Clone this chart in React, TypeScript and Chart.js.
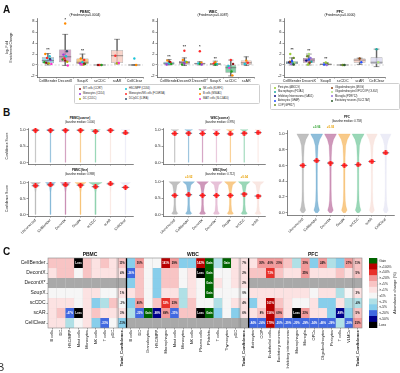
import React, { useEffect, useRef } from "react";
import { Chart, registerables } from "chart.js";

Chart.register(...registerables);

const FONT = "'Liberation Sans', Arial, sans-serif";
Chart.defaults.font.family = FONT;
Chart.defaults.color = "#222";
if (typeof document !== "undefined") document.body.style.margin = "0";

// ================= Panel A data (box plots) =================
const immuneMarkers = ["B/T cells (CCR7)", "Monocytes (CD14)", "DC (CD1C)", "HSC/MPP (CD34)", "Monocytes/NK cells (FCGR3A)", "DC/pDC (IL3RA)", "NK cells (KLRF1)", "B cells (MS4A1)", "MAIT cells (SLC4A10)"];
const immuneColors = ["#8b1a1a", "#9b3dd6", "#b7b400", "#19c3d6", "#ff2a2a", "#2f4f70", "#1fa31f", "#ff8a00", "#ff33cc"];
const brainMarkers = ["Pericytes (ABCC9)", "Macrophages (F13A1)", "Inhibitory Interneurons (GAD1)", "Astrocytes (GFAP)", "COP (GPR17)", "Oligodendrocytes (MOG)", "Oligodendrocytes/OPC/COP (OLIG2)", "Microglia (P2RY12)", "Excitatory neurons (SLC17A7)"];
const brainColors = ["#9acd32", "#20a8a0", "#101080", "#2050ff", "#6b8e23", "#8b4513", "#b0e080", "#9370db", "#2e5e2e"];

const boxYTicks = [-2, 0, 2, 4, 6, 8];

const pbmcBoxCats = ["CellBender", "DecontX", "SoupX", "scCDC", "scAR", "CellClear"];
const pbmcQ1 = [0.3, 0.5, 0.2, -0.04, 0.4, -0.04];
const pbmcQ3 = [1.4, 2.85, 1.2, 0.04, 2.7, 0.04];
const pbmcMed = [0.8, 1.5, 0.5, 0, 1.7, 0];
const pbmcLo = [0.0, -0.1, 0.0, 0, 0.2, -0.04];
const pbmcHi = [2.1, 5.6, 2.0, 0, 4.7, 0.04];
// [category, jitter, value, marker colour index]
const pbmcPoints = [
  [0, -0.15, 2.0, 7], [0, 0.1, 1.6, 3], [0, -0.05, 1.3, 4], [0, 0.15, 0.9, 1], [0, -0.2, 0.5, 6], [0, 0.05, 0.3, 2], [0, 0.2, 0.2, 8], [0, -0.1, 0.4, 0], [0, 0.12, 1.1, 5],
  [1, 0.0, 7.6, 7], [1, 0.1, 2.5, 5], [1, -0.1, 1.9, 1], [1, 0.05, 1.6, 3], [1, -0.15, 1.0, 6], [1, 0.12, 0.6, 2], [1, 0.0, 0.8, 0], [1, 0.15, -0.1, 8], [1, -0.05, 1.2, 4],
  [2, -0.1, 1.2, 7], [2, 0.1, 0.9, 4], [2, 0, 0.5, 3], [2, -0.15, 0.3, 1], [2, 0.15, 0.2, 6], [2, 0.05, 0.1, 2], [2, -0.05, 0.1, 8], [2, 0.1, 0.25, 0],
  [3, 0, 0, 4], [3, 0.1, 0, 6], [3, -0.1, 0, 0],
  [4, 0, 0.3, 2], [4, 0.1, 0.35, 8], [4, -0.1, 1.7, 4],
  [5, 0, 1.2, 3], [5, 0.1, 0, 7],
];
const pbmcStars = [[0, 2.85, "**"], [1, 8.3, "*"], [2, 2.6, "**"]];

const wbcBoxCats = ["CellBender", "DecontX", "DecontX*", "SoupX", "scCDC", "scAR"];
const wbcQ1 = [0.05, 0.1, 0.1, 0.0, -1.4, 0.0];
const wbcQ3 = [0.6, 0.75, 0.4, 0.35, 0.0, 0.8];
const wbcMed = [0.3, 0.45, 0.25, 0.15, -0.5, 0.4];
const wbcLo = [0.0, -0.1, 0.0, -0.1, -2.0, -0.1];
const wbcHi = [1.0, 1.3, 0.6, 0.7, 0.9, 1.5];
const wbcPoints = [
  [0, -0.1, 0.8, 7], [0, 0.1, 0.5, 4], [0, 0, 0.3, 3], [0, -0.15, 0.1, 1], [0, 0.15, 0.2, 6], [0, 0.05, 0.6, 0],
  [1, 0, 2.6, 4], [1, -0.1, 0.9, 7], [1, 0.1, 0.6, 3], [1, 0, 0.3, 1], [1, -0.15, 0.1, 6], [1, 0.15, 0.5, 2],
  [2, 0, 2.5, 4], [2, 0.1, 0.4, 7], [2, -0.1, 0.3, 3], [2, 0, 0.2, 6], [2, 0.12, 0.1, 1],
  [3, 0, 0.5, 7], [3, -0.1, 0.3, 4], [3, 0.1, 0.2, 3], [3, 0, 0.1, 6],
  [4, 0, 0.9, 4], [4, 0.1, -1.9, 7], [4, -0.1, -0.5, 8], [4, 0.05, -1.2, 6], [4, -0.15, -0.2, 3], [4, 0.15, 0.2, 0],
  [5, 0, 0.8, 7], [5, 0.1, 0.4, 4], [5, -0.1, 0.2, 3],
];
const wbcStars = [[0, 1.5, "**"], [1, 3.4, "**"], [2, 3.3, "*"], [3, 1.2, "**"]];

const pfcBoxCats = ["CellBender", "DecontX", "SoupX", "scCDC", "scAR", "CellClear"];
const pfcQ1 = [0.2, 0.4, 0.0, -0.04, 0.4, 0.2];
const pfcQ3 = [0.7, 1.3, 0.25, 0.04, 1.2, 1.4];
const pfcMed = [0.4, 0.9, 0.1, 0, 0.9, 0.5];
const pfcLo = [0.0, 0.0, 0.0, -0.04, 0.1, -0.3];
const pfcHi = [1.3, 2.0, 0.45, 0.04, 1.25, 2.9];
const pfcPoints = [
  [0, -0.1, 2.0, 0], [0, 0.1, 1.3, 4], [0, 0, 0.7, 3], [0, -0.15, 0.5, 2], [0, 0.15, 0.4, 6], [0, 0.05, 0.3, 1], [0, -0.05, 0.2, 7], [0, 0.1, 0.1, 8], [0, -0.12, 0.6, 5],
  [1, 0, 2.0, 6], [1, -0.1, 1.6, 4], [1, 0.1, 1.3, 7], [1, 0, 1.0, 3], [1, -0.15, 0.8, 2], [1, 0.15, 0.6, 1], [1, 0.05, 0.4, 5], [1, -0.05, 0.1, 0],
  [2, 0, 0.45, 0], [2, 0.1, 0.2, 4], [2, -0.1, 0.1, 3], [2, 0.05, 0.0, 7],
  [3, 0, 0, 4], [3, 0.1, 0, 8],
  [4, 0, 1.2, 5], [4, 0.1, 0.5, 3],
  [5, 0, 2.9, 1], [5, 0.1, 0.5, 6],
];
const pfcStars = [[0, 2.75, "**"], [1, 2.6, "**"], [2, 1.1, "**"]];

const boxColor: Record<string, string> = {
  CellBender: "#84cbe0", DecontX: "#c98bbb", "DecontX*": "#dca7c8", SoupX: "#f6ba6a",
  scCDC: "#67c191", scAR: "#f6c9bd", CellClear: "#dad8ef",
};

// ================= Panel B data (violins) =================
const bMethodsP = ["Uncorrected", "CellBender", "DecontX", "SoupX", "scCDC", "scAR", "CellClear"];
const bMethodsW = ["Uncorrected", "CellBender", "DecontX", "DecontX*", "SoupX", "scCDC", "scAR"];
const methodColor: Record<string, string> = {
  Uncorrected: "#9a9a9a", CellBender: "#4a96c4", DecontX: "#b0588f", "DecontX*": "#d99cc0",
  SoupX: "#f4aa40", scCDC: "#5cbf8a", scAR: "#f5d8d0", CellClear: "#e0e0f2",
};
const pbmcCoarseDots = [0.98, 0.98, 0.98, 0.98, 0.95, 0.98, 0.9];
const pbmcFineDots = [0.9, 0.93, 0.93, 0.92, 0.87, 0.96, 0.85];
const wbcCoarseDots = [0.88, 0.89, 0.88, 0.88, 0.87, 0.89, 0.91];
const wbcFineDots = [0.58, 0.6, 0.58, 0.58, 0.58, 0.62, 0.56];
const pfcDots = [0.6, 0.66, 0.63, 0.6, 0.61, 0.65, 0.76];

const coarseLevels = [0, 0.85, 0.94, 0.98, 1.0];
const pbmcCoarseW = [0.02, 0.02, 0.05, 0.15, 0.25];
const pbmcCoarseScale = [1, 1, 1, 1, 1.3, 1, 1.2];
const pbmcFineLevels = [0, 0.7, 0.9, 0.96, 1.0];
const pbmcFineW = [0.03, 0.03, 0.07, 0.22, 0.34];
const pbmcFineScale = [1, 1, 1, 1.1, 1.3, 0.7, 1];
const wbcCoarseW = [0.02, 0.02, 0.05, 0.18, 0.28];
const wbcCoarseScale = [1, 1, 1, 1, 1, 1, 0.8];
const wbcFineLevels = [0, 0.03, 0.1, 0.3, 0.5, 0.7, 0.9, 0.97, 1.0];
const wbcFineW = [0.15, 0.22, 0.1, 0.06, 0.06, 0.08, 0.16, 0.36, 0.42];
const wbcFineScale = [1, 1, 1, 1, 1, 1, 1];
const pfcLevels = [0, 0.03, 0.08, 0.15, 0.3, 0.5, 0.7, 0.85, 0.93, 0.98, 1.0];
const pfcW = [0.08, 0.2, 0.12, 0.07, 0.05, 0.05, 0.06, 0.1, 0.22, 0.38, 0.43];
const pfcScale = [1, 1, 1, 1, 1, 0.9, 0.9];
const wbcFineDelta = [[1, "+0.02", "#e8a000"], [5, "+0.04", "#e8a000"]];
const pfcDelta = [[1, "+0.06", "#2ca02c"], [2, "+0.03", "#e8a000"]];

// ================= Panel C data (heatmap) =================
const hmRows = ["CellBender", "DecontX", "DecontX*", "SoupX", "scCDC", "scAR", "CellClear"];
const pbmcCols = ["B cells", "DC", "HSC/MPP", "Mast cells", "Monocytes", "NK cells", "T cells", "pDC", "Total_Confidence"];
const wbcCols = ["B cells", "DC", "Granulocytes", "HSC/MPP", "Macrophages", "Mast cells", "Monocytes", "NK cells", "Plasma cells", "Platelets", "T cells", "Thymocytes", "pDC", "Total_Confidence"];
const pfcCols = ["Astrocytes", "COP", "Endothelial cells", "Excitatory neurons", "Inhibitory interneurons", "Macrophages", "Microglia", "OPCs", "Oligodendrocytes", "Pericytes", "T cells", "VLMCs", "Total_Confidence"];
const pbmcCells = [
  "R0 R0 R0 L:Loss R0 P R0 P R0:11%",
  "P R0 R0 W R0 P P P P:4%",
  "X X X X X X X X X",
  "W W W W P P W W P:1%",
  "P P P W P C c R0 W:-1%",
  "P R0 B:-47% L:Loss P R0 P P P:3%",
  "P P c W P C B:-33% W C:-11%",
];
const wbcCells = [
  "C R1:30% W W R3:141% R1:29% C C R3:142% G:Gain c G:Gain P P:7%",
  "B:-26% R0 W C R0 R0 W P L:Loss G:Gain W W P P:2%",
  "C R0 W C R0 R0 W P W G:Gain P W P P:2%",
  "P R0 W C P P c P W G:Gain W W W W:0%",
  "C R1:40% W R0 R2:52% R1:23% c R0 W W c W P P:4%",
  "c B:-23% G:Gain N:-98% R1:69% B:-31% R0 R0 L:Loss G:Gain C W C P:6%",
  "X X X X X X X X X X X X X X",
];
const pfcCells = [
  "P R1:30% R1:40% R1:20% R0 c R1:30% C R1:24% c C R1:27% R0:11%",
  "R0 R0 R2:73% R0 P P R1:25% P P P R0 P R0:5%",
  "X X X X X X X X X X X X X",
  "P P P P P P P W P P c W P:3%",
  "C P R3:161% R0 P W W P C C P c c:-4%",
  "P R0:8% R3:156% R1:69% P L:Loss R1:23% P P C N:-88% C R0:5%",
  "B:-84% B:-24% R3:179% B:-20% B:-29% B:-20% B:-29% B:-34% B:-46% B:-29% c B:-28% R1:25%",
];
const codeColor: Record<string, string> = {
  G: "#006400", R3: "#b80000", R2: "#e8302a", R1: "#f29a9a", R0: "#f8c4c4", P: "#fce2e2",
  W: "#f6f6f6", c: "#b0e0e6", C: "#87ceeb", B: "#4169e1", N: "#00008b", L: "#000000", X: "#a9a9a9",
};
const darkCodes = ["G", "R3", "R2", "B", "N", "L"];
const cbLabels = ["Gain", ">+100%", ">+50%", ">+20%", ">+5%", ">+1%", "±1%", "<-1%", "<-5%", "<-20%", "<-50%", "Loss"];
const cbCodes = ["G", "R3", "R2", "R1", "R0", "P", "W", "c", "C", "B", "N", "L"];

// ================= helpers =================
type Place = { left: number; top: number; width: number; height: number; yW: number; xH: number; padT: number; padR: number };
function mkPlace(pl: number, pt: number, pw: number, ph: number, yW: number, xH: number, padT = 4, padR = 3): Place {
  pl = Math.round(pl); pt = Math.round(pt); pw = Math.round(pw); ph = Math.round(ph);
  return { left: pl - yW, top: pt - padT, width: yW + pw + padR, height: padT + ph + xH, yW, xH, padT, padR };
}
function zeroPad(s: any) { s.paddingTop = 0; s.paddingBottom = 0; s.paddingLeft = 0; s.paddingRight = 0; }
function hexA(hex: string, a: number) {
  const n = parseInt(hex.slice(1), 16);
  return `rgba(${(n >> 16) & 255},${(n >> 8) & 255},${n & 255},${a})`;
}
function baseOpts(p: Place) {
  return {
    responsive: false, animation: false, events: [],
    layout: { padding: { top: p.padT, right: p.padR, left: 0, bottom: 0 } },
    plugins: { legend: { display: false }, tooltip: { enabled: false }, title: { display: false } },
  };
}
function xLin(min: number, max: number, labels: string[], p: Place, show: boolean, rot: number, size: number) {
  return {
    type: "linear", min, max, offset: false,
    afterBuildTicks: (s: any) => { s.ticks = labels.map((_, i) => ({ value: i })); },
    afterFit: (s: any) => { s.height = p.xH; zeroPad(s); },
    ticks: { display: show, autoSkip: false, minRotation: rot, maxRotation: rot, font: { size }, padding: 0.5, color: "#222", callback: (v: any) => labels[Math.round(v)] ?? "" },
    grid: { drawOnChartArea: false, drawTicks: true, tickLength: 1.5, color: "#333", lineWidth: 0.5 },
    border: { display: true, color: "#333", width: 0.6 },
  };
}
function yLin(min: number, max: number, ticks: number[], p: Place, fmt: (v: number) => string, size: number, title?: any) {
  return {
    type: "linear", min, max,
    afterBuildTicks: (s: any) => { s.ticks = ticks.map((v) => ({ value: v })); },
    afterFit: (s: any) => { s.width = p.yW; zeroPad(s); },
    ticks: { font: { size }, padding: 1, color: "#222", autoSkip: false, callback: (v: any) => fmt(v) },
    grid: { drawOnChartArea: false, drawTicks: true, tickLength: 1.5, color: "#333", lineWidth: 0.5 },
    border: { display: true, color: "#333", width: 0.6 },
    title: title ? { display: true, text: title, font: { size: 3.4 }, padding: 0, color: "#222" } : { display: false },
  };
}

// ================= chart builders =================
function boxBuilder(cats: string[], q1: number[], q3: number[], med: number[], lo: number[], hi: number[], pts: number[][], palette: string[], stars: any[], xmin: number, yTitle?: string[]) {
  return (p: Place) => {
    const boxes = cats.map((_, i) => ({ x: i, y: [q1[i], q3[i]] }));
    const whisk = cats.map((_, i) => ({ x: i, y: [lo[i], hi[i]] }));
    const dots = pts.map((q) => ({ x: q[0] + q[1], y: q[2] }));
    const extras = {
      id: "boxExtras",
      beforeDatasetsDraw(chart: any) {
        const { ctx, chartArea: a, scales } = chart;
        const y0 = scales.y.getPixelForValue(0);
        ctx.save(); ctx.strokeStyle = "#bdbdbd"; ctx.lineWidth = 0.6; ctx.setLineDash([2, 1.5]);
        ctx.beginPath(); ctx.moveTo(a.left, y0); ctx.lineTo(a.right, y0); ctx.stroke(); ctx.restore();
      },
      afterDatasetDraw(chart: any, args: any) {
        if (args.index !== 1) return;
        const { ctx, scales: { x, y } } = chart;
        const sp = x.getPixelForValue(1) - x.getPixelForValue(0);
        ctx.save(); ctx.strokeStyle = "#555"; ctx.lineWidth = 0.6;
        cats.forEach((_, i) => {
          const cx = x.getPixelForValue(i);
          const hw = sp * 0.35, cw = sp * 0.17;
          const ym = y.getPixelForValue(med[i]);
          ctx.beginPath(); ctx.moveTo(cx - hw, ym); ctx.lineTo(cx + hw, ym); ctx.stroke();
          [lo[i], hi[i]].forEach((v) => { const yy = y.getPixelForValue(v); ctx.beginPath(); ctx.moveTo(cx - cw, yy); ctx.lineTo(cx + cw, yy); ctx.stroke(); });
        });
        ctx.restore();
      },
      afterDatasetsDraw(chart: any) {
        const { ctx, scales: { x, y } } = chart;
        ctx.save(); ctx.fillStyle = "#333"; ctx.font = `bold 4px ${FONT}`; ctx.textAlign = "center"; ctx.textBaseline = "middle";
        stars.forEach((s) => ctx.fillText(s[2], x.getPixelForValue(s[0]), y.getPixelForValue(s[1])));
        ctx.restore();
      },
    };
    return {
      type: "bar",
      data: {
        datasets: [
          { type: "bar", data: whisk, backgroundColor: "#666", barThickness: 0.8, grouped: false, order: 2 },
          { type: "bar", data: boxes, backgroundColor: cats.map((c) => hexA(boxColor[c], 0.8)), borderColor: "#777", borderWidth: 0.5, borderSkipped: false, barPercentage: 0.7, categoryPercentage: 1, grouped: false, order: 1 },
          { type: "scatter", data: dots, pointBackgroundColor: pts.map((q) => palette[q[3]]), pointBorderWidth: 0, pointRadius: 1.2, order: 0 },
        ],
      },
      options: {
        ...baseOpts(p),
        scales: {
          x: xLin(xmin, 5.5, cats, p, true, 0, 3.7),
          y: yLin(-2.2, 8.6, boxYTicks, p, (v) => String(v), 4, yTitle),
        },
      },
      plugins: [extras],
    };
  };
}

function plusMarker() {
  const c = document.createElement("canvas");
  c.width = 5; c.height = 5;
  const g = c.getContext("2d")!;
  g.fillStyle = "#ff1a1a";
  g.fillRect(1.5, 0, 2, 5); g.fillRect(0, 1.5, 5, 2);
  return c;
}

function violinBuilder(methods: string[], dots: number[], levels: number[], widths: number[], scale: number[], xmin: number, xmax: number, yTicks: number[], ymin: number, ymax: number, showX: boolean, deltas: any[], yTitle?: string) {
  return (p: Place) => {
    const vio = {
      id: "violins",
      beforeDatasetsDraw(chart: any) {
        const { ctx, scales: { x, y } } = chart;
        const sp = x.getPixelForValue(1) - x.getPixelForValue(0);
        ctx.save();
        methods.forEach((m, i) => {
          const cx = x.getPixelForValue(i);
          ctx.beginPath();
          levels.forEach((lv, k) => {
            const px = cx + widths[k] * scale[i] * sp, py = y.getPixelForValue(lv);
            if (k === 0) ctx.moveTo(px, py); else ctx.lineTo(px, py);
          });
          for (let k = levels.length - 1; k >= 0; k--) ctx.lineTo(cx - widths[k] * scale[i] * sp, y.getPixelForValue(levels[k]));
          ctx.closePath();
          ctx.fillStyle = hexA(methodColor[m], 0.62); ctx.fill();
          ctx.strokeStyle = hexA(methodColor[m], 0.7); ctx.lineWidth = 0.3; ctx.stroke();
          const yd = y.getPixelForValue(dots[i]);
          ctx.strokeStyle = "#1d3557"; ctx.lineWidth = 0.7;
          ctx.beginPath(); ctx.moveTo(cx - sp * 0.25, yd); ctx.lineTo(cx + sp * 0.25, yd); ctx.stroke();
        });
        ctx.restore();
      },
      afterDatasetsDraw(chart: any) {
        const { ctx, chartArea: a, scales: { x } } = chart;
        ctx.save(); ctx.font = `bold 3px ${FONT}`; ctx.textAlign = "center"; ctx.textBaseline = "bottom";
        deltas.forEach((d) => { ctx.fillStyle = d[2]; ctx.fillText(d[1], x.getPixelForValue(d[0]), a.top - 1); });
        ctx.restore();
      },
    };
    return {
      type: "scatter",
      data: { datasets: [{ data: dots.map((d, i) => ({ x: i, y: d })), pointStyle: plusMarker(), pointRadius: 2.5 }] },
      options: {
        ...baseOpts(p),
        scales: {
          x: xLin(xmin, xmax, methods, p, showX, 45, 3.6),
          y: yLin(ymin, ymax, yTicks, p, (v) => v.toFixed(1), 4.2, yTitle),
        },
      },
      plugins: [vio],
    };
  };
}

const allCols = [...pbmcCols, ...wbcCols, ...pfcCols];
function parseCells() {
  return hmRows.map((_, ri) => [pbmcCells[ri], wbcCells[ri], pfcCells[ri]].join(" ").split(" ").map((tok) => {
    const idx = tok.indexOf(":");
    return idx < 0 ? { code: tok, label: "" } : { code: tok.slice(0, idx), label: tok.slice(idx + 1) };
  }));
}

function heatBuilder(p: Place) {
  const cells = parseCells();
  const b1 = pbmcCols.length - 1, b2 = pbmcCols.length + wbcCols.length - 1;
  const totals = [pbmcCols.length - 2, b2 - 1, allCols.length - 2];
  const txt = {
    id: "cellText",
    afterDatasetsDraw(chart: any) {
      const { ctx, chartArea: a, scales: { x } } = chart;
      ctx.save(); ctx.font = `bold 2.8px ${FONT}`; ctx.textAlign = "center"; ctx.textBaseline = "middle";
      hmRows.forEach((_, ri) => {
        chart.getDatasetMeta(ri).data.forEach((el: any, ci: number) => {
          const cell = cells[ri][ci];
          if (!cell.label) return;
          const { x: ex, y: ey, base } = el.getProps(["x", "y", "base"], true);
          ctx.fillStyle = darkCodes.includes(cell.code) ? "#fff" : "#111";
          ctx.fillText(cell.label, ex, (ey + base) / 2);
        });
      });
      const mid = (i: number) => (x.getPixelForValue(i) + x.getPixelForValue(i + 1)) / 2;
      ctx.strokeStyle = "#777"; ctx.lineWidth = 0.4;
      totals.forEach((i) => { [-0.7, 0.7].forEach((d) => { ctx.beginPath(); ctx.moveTo(mid(i) + d, a.top); ctx.lineTo(mid(i) + d, a.bottom); ctx.stroke(); }); });
      ctx.strokeStyle = "#000"; ctx.lineWidth = 1.3;
      [b1, b2].forEach((i) => { ctx.beginPath(); ctx.moveTo(mid(i), a.top); ctx.lineTo(mid(i), a.bottom); ctx.stroke(); });
      ctx.strokeStyle = "#888"; ctx.lineWidth = 0.6; ctx.strokeRect(a.left, a.top, a.right - a.left, a.bottom - a.top);
      ctx.restore();
    },
  };
  return {
    type: "bar",
    data: {
      labels: allCols,
      datasets: hmRows.map((_, ri) => ({
        data: allCols.map(() => [ri - 0.5, ri + 0.5]),
        backgroundColor: cells[ri].map((c) => codeColor[c.code]),
        borderColor: "rgba(160,160,160,0.35)", borderWidth: 0.3, borderSkipped: false,
        barPercentage: 1, categoryPercentage: 1, grouped: false,
      })),
    },
    options: {
      ...baseOpts(p),
      scales: {
        x: {
          type: "category", offset: true,
          afterFit: (s: any) => { s.height = p.xH; zeroPad(s); },
          ticks: {
            autoSkip: false, minRotation: 90, maxRotation: 90, padding: 0.5, color: "#222",
            font: (c: any) => ({ size: allCols[c.index] === "Total_Confidence" ? 4.4 : 3.9, weight: allCols[c.index] === "Total_Confidence" ? "bold" : "normal" }),
          },
          grid: { drawOnChartArea: false, drawTicks: true, tickLength: 1.5, color: "#333", lineWidth: 0.5, offset: false },
          border: { display: false },
        },
        y: {
          type: "linear", min: -0.5, max: 6.5, reverse: true,
          afterBuildTicks: (s: any) => { s.ticks = hmRows.map((_, i) => ({ value: i })); },
          afterFit: (s: any) => { s.width = p.yW; zeroPad(s); },
          ticks: { font: { size: 5 }, padding: 1, color: "#222", autoSkip: false, callback: (v: any) => hmRows[Math.round(v)] },
          grid: { drawOnChartArea: false, drawTicks: true, tickLength: 1.5, color: "#333", lineWidth: 0.5 },
          border: { display: false },
        },
      },
    },
    plugins: [txt],
  };
}

function colorbarBuilder(p: Place) {
  return {
    type: "bar",
    data: { labels: cbLabels, datasets: [{ data: cbLabels.map(() => 1), backgroundColor: cbCodes.map((c) => codeColor[c]), borderWidth: 0, barPercentage: 1, categoryPercentage: 1 }] },
    options: {
      ...baseOpts(p),
      layout: { padding: { top: p.padT, right: 0, left: 0, bottom: 0 } },
      indexAxis: "y",
      scales: {
        x: { type: "linear", display: false, min: 0, max: 1 },
        y: {
          type: "category", position: "right", offset: true,
          afterFit: (s: any) => { s.width = p.yW; zeroPad(s); },
          ticks: { font: { size: 3.3 }, padding: 1, color: "#222", autoSkip: false },
          grid: { drawOnChartArea: false, drawTicks: true, tickLength: 1.2, color: "#555", lineWidth: 0.4, offset: false },
          border: { display: true, color: "#666", width: 0.5 },
        },
      },
    },
  };
}

// ================= layout =================
const pA1 = mkPlace(37, 18, 107, 59, 32, 9);
const pA2 = mkPlace(157, 18, 98, 59, 12, 9);
const pA3 = mkPlace(284, 18, 102, 59, 12, 9);
const pB1 = mkPlace(27.5, 127.25, 107, 38.5, 23, 3);
const pB2 = mkPlace(27.5, 180.35, 107, 36.3, 23, 18);
const pB3 = mkPlace(163, 127.25, 104, 38.5, 12, 3);
const pB4 = mkPlace(163, 180.35, 104, 36.3, 12, 18, 6);
const pB5 = mkPlace(287, 130, 110, 85.3, 12, 18, 6, 2);
const pC = mkPlace(48, 258, 314, 70, 46, 46, 2, 2);
const pCB: Place = { left: 369, top: 256, width: 30, height: 72, yW: 22, xH: 0, padT: 2, padR: 0 };

const charts: [Place, (p: Place) => any][] = [
  [pA1, boxBuilder(pbmcBoxCats, pbmcQ1, pbmcQ3, pbmcMed, pbmcLo, pbmcHi, pbmcPoints, immuneColors, pbmcStars, -0.63, ["log\u2082 Fold", "Enrichment Change"])],
  [pA2, boxBuilder(wbcBoxCats, wbcQ1, wbcQ3, wbcMed, wbcLo, wbcHi, wbcPoints, immuneColors, wbcStars, -0.77)],
  [pA3, boxBuilder(pfcBoxCats, pfcQ1, pfcQ3, pfcMed, pfcLo, pfcHi, pfcPoints, brainColors, pfcStars, -0.47)],
  [pB1, violinBuilder(bMethodsP, pbmcCoarseDots, coarseLevels, pbmcCoarseW, pbmcCoarseScale, -0.5, 6.5, [0, 0.5, 1], -0.05, 1.05, false, [], "Confidence Score")],
  [pB2, violinBuilder(bMethodsP, pbmcFineDots, pbmcFineLevels, pbmcFineW, pbmcFineScale, -0.5, 6.5, [0, 0.5, 1], -0.05, 1.05, true, [], "Confidence Score")],
  [pB3, violinBuilder(bMethodsW, wbcCoarseDots, coarseLevels, wbcCoarseW, wbcCoarseScale, -0.85, 6.5, [0, 0.5, 1], -0.05, 1.05, false, [])],
  [pB4, violinBuilder(bMethodsW, wbcFineDots, wbcFineLevels, wbcFineW, wbcFineScale, -0.85, 6.5, [0, 0.5, 1], -0.05, 1.05, true, wbcFineDelta)],
  [pB5, violinBuilder(bMethodsP, pfcDots, pfcLevels, pfcW, pfcScale, -1.15, 6.6, [0, 0.2, 0.4, 0.6, 0.8, 1.0], -0.03, 1.05, true, pfcDelta)],
  [pC, heatBuilder],
  [pCB, colorbarBuilder],
];

function ChartCanvas({ p, build }: { p: Place; build: (p: Place) => any }) {
  const ref = useRef<HTMLCanvasElement | null>(null);
  useEffect(() => {
    if (!ref.current) return;
    const ch = new Chart(ref.current, build(p));
    return () => ch.destroy();
  }, []);
  return <canvas ref={ref} width={p.width} height={p.height} style={{ position: "absolute", left: p.left, top: p.top, width: p.width, height: p.height }} />;
}

function T({ cx, cy, s, b, c, children, align }: any) {
  const w = 160;
  const left = align === "left" ? cx : cx - w / 2;
  return (
    <div style={{ position: "absolute", left, top: cy - s * 0.6, width: w, textAlign: align || "center", fontSize: s, lineHeight: 1.2, fontWeight: b ? "bold" : "normal", color: c || "#111", whiteSpace: "nowrap", fontFamily: FONT }}>
      {children}
    </div>
  );
}

function Legend({ x, y, w, h, items, colors, cols, rowH, colX }: any) {
  const rows = Math.ceil(items.length / cols);
  return (
    <div style={{ position: "absolute", left: x, top: y, width: w, height: h, border: "0.5px solid #cfcfcf", borderRadius: 1.5, background: "#fff" }}>
      {items.map((it: string, i: number) => {
        const col = Math.floor(i / rows), row = i % rows;
        const cy = 3.5 + row * rowH;
        return (
          <React.Fragment key={i}>
            <div style={{ position: "absolute", left: colX[col], top: cy - 1, width: 2, height: 2, borderRadius: 1, background: colors[i] }} />
            <div style={{ position: "absolute", left: colX[col] + 4, top: cy - 1.6, fontSize: 2.6, lineHeight: 1.2, whiteSpace: "nowrap", color: "#222", fontFamily: FONT }}>{it}</div>
          </React.Fragment>
        );
      })}
    </div>
  );
}

export default function App() {
  return (
    <div style={{ position: "relative", width: 400, height: 373, overflow: "hidden", background: "#fff", fontFamily: FONT }}>
      {charts.map(([p, b], i) => <ChartCanvas key={i} p={p} build={b} />)}
      {/* panel letters */}
      <T cx={3} cy={10} s={10} b align="left">A</T>
      <T cx={3} cy={113} s={10} b align="left">B</T>
      <T cx={3} cy={252} s={10} b align="left">C</T>
      <T cx={-3} cy={368} s={11} align="left" c="#333">B</T>
      {/* A titles */}
      <T cx={85} cy={12} s={3.6} b>PBMC</T>
      <T cx={85} cy={16} s={3.3}>(Friedman p=0.0004)</T>
      <T cx={213} cy={12} s={3.6} b>WBC</T>
      <T cx={213} cy={16} s={3.3}>(Friedman p=0.0087)</T>
      <T cx={340} cy={12} s={3.6} b>PFC</T>
      <T cx={340} cy={16} s={3.3}>(Friedman p=0.0000)</T>
      <Legend x={74} y={84} w={184} h={18} items={immuneMarkers} colors={immuneColors} cols={3} rowH={5} colX={[4, 50, 124]} />
      <Legend x={270} y={83} w={128} h={25} items={brainMarkers} colors={brainColors} cols={2} rowH={4.4} colX={[3, 60]} />
      {/* B titles */}
      <T cx={80} cy={119} s={3} b>PBMC(coarse)</T>
      <T cx={80} cy={122.8} s={2.7}>(baseline median: 1.000)</T>
      <T cx={80} cy={171} s={3} b>PBMC(fine)</T>
      <T cx={80} cy={174.8} s={2.7}>(baseline median: 0.988)</T>
      <T cx={220} cy={119} s={3} b>WBC(coarse)</T>
      <T cx={220} cy={122.8} s={2.7}>(baseline median: 0.995)</T>
      <T cx={220} cy={171} s={3} b>WBC(fine)</T>
      <T cx={220} cy={174.8} s={2.7}>(baseline median: 0.712)</T>
      <T cx={347} cy={118} s={3} b>PFC</T>
      <T cx={347} cy={121.8} s={2.7}>(baseline median: 0.758)</T>
      {/* C titles */}
      <T cx={90} cy={254} s={5} b>PBMC</T>
      <T cx={193} cy={254} s={5} b>WBC</T>
      <T cx={313} cy={254} s={5} b>PFC</T>
      <div style={{ position: "absolute", left: 395 - 40, top: 293 - 3, width: 80, height: 6, transform: "rotate(-90deg)", textAlign: "center", fontSize: 4, lineHeight: "6px", color: "#222", whiteSpace: "nowrap", fontFamily: FONT }}>
        Abundance change (%)
      </div>
    </div>
  );
}
